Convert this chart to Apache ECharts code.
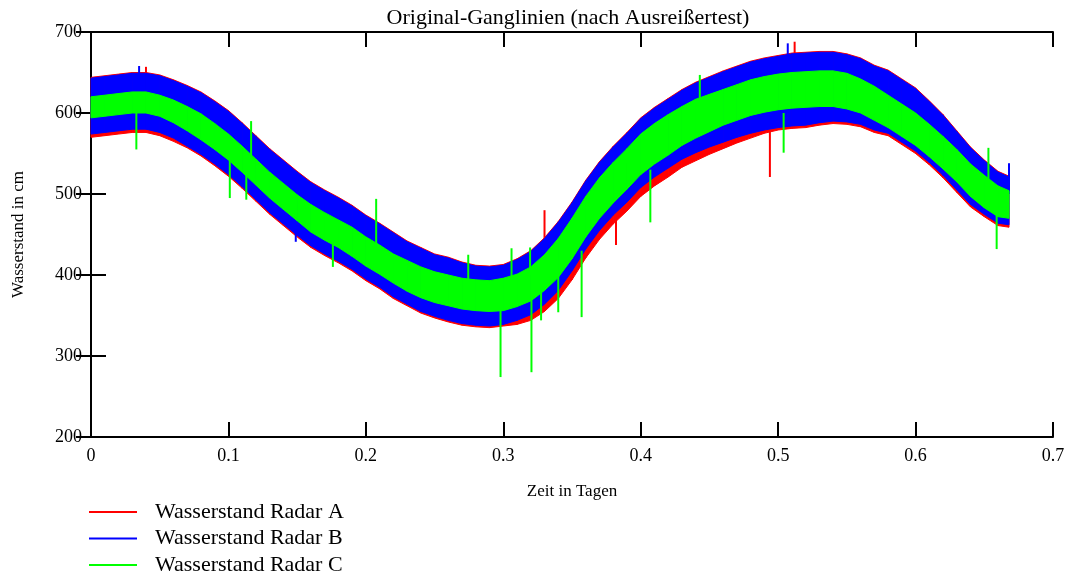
<!DOCTYPE html>
<html>
<head>
<meta charset="utf-8">
<title>Original-Ganglinien</title>
<script src="https://cdn.jsdelivr.net/npm/echarts@6/dist/echarts.min.js"></script>
<style>
  html, body { margin: 0; padding: 0; background: #fff; }
  #chart { width: 1068px; height: 578px; }
</style>
</head>
<body>
<div id="chart"></div>
<script>
// Zeit in Tagen (sampling positions of the band envelopes)
var zeit = [0, 0.01, 0.02, 0.03, 0.04, 0.05, 0.06, 0.07, 0.08, 0.09,
  0.10, 0.11, 0.12, 0.13, 0.14, 0.15, 0.16, 0.17, 0.18, 0.19,
  0.20, 0.21, 0.22, 0.23, 0.24, 0.25, 0.26, 0.27, 0.28, 0.29,
  0.30, 0.31, 0.32, 0.33, 0.34, 0.35, 0.36, 0.37, 0.38, 0.39,
  0.40, 0.41, 0.42, 0.43, 0.44, 0.45, 0.46, 0.47, 0.48, 0.49,
  0.50, 0.51, 0.52, 0.53, 0.54, 0.55, 0.56, 0.57, 0.58, 0.59,
  0.60, 0.61, 0.62, 0.63, 0.64, 0.65, 0.66, 0.668];

// Radar A (red): lower / upper edge of the noise band, cm
var radarA_lo = [570, 572, 574, 576, 576, 572, 565, 557, 547, 535,
  522, 507, 491, 475, 461, 447, 434, 424, 415, 405,
  393, 383, 371, 362, 353, 347, 342, 338, 336, 335,
  337, 339, 344, 355, 371, 394, 421, 444, 463, 479,
  497, 510, 521, 533, 541, 549, 556, 563, 569, 575,
  579, 581, 582, 585, 587, 586, 583, 576, 572, 561,
  550, 536, 520, 502, 484, 472, 461, 459];
var radarA_hi = [644, 646, 648, 650, 650, 647, 641, 634, 626, 615,
  603, 588, 572, 556, 542, 528, 515, 505, 496, 486,
  474, 464, 453, 442, 434, 426, 422, 416, 412, 411,
  413, 420, 430, 446, 466, 490, 517, 540, 559, 576,
  594, 607, 618, 629, 638, 645, 652, 658, 664, 668,
  671, 674, 675, 676, 676, 673, 668, 659, 653, 642,
  631, 615, 598, 578, 558, 542, 528, 522];

// Radar B (blue)
var radarB_lo = [574, 576, 578, 580, 580, 576, 569, 559, 549, 537,
  524, 509, 493, 477, 463, 449, 436, 426, 417, 407,
  395, 385, 373, 364, 355, 349, 344, 340, 338, 337,
  339, 344, 351, 364, 381, 405, 432, 455, 474, 490,
  508, 521, 532, 543, 551, 558, 564, 570, 575, 579,
  582, 584, 585, 588, 590, 589, 586, 579, 575, 564,
  553, 539, 523, 505, 487, 475, 464, 462];
var radarB_hi = [643, 645, 647, 649, 649, 646, 640, 633, 625, 614,
  602, 587, 571, 555, 541, 527, 514, 504, 495, 485,
  473, 463, 452, 441, 433, 425, 421, 415, 411, 410,
  412, 419, 429, 445, 465, 489, 516, 539, 558, 575,
  593, 606, 617, 628, 637, 644, 651, 657, 663, 667,
  670, 673, 674, 675, 675, 672, 667, 658, 652, 641,
  630, 614, 597, 577, 557, 541, 527, 521];

// Radar C (green)
var radarC_lo = [594, 596, 598, 600, 600, 596, 588, 578, 567, 555,
  542, 527, 511, 495, 481, 467, 453, 443, 434, 423,
  411, 401, 390, 380, 372, 366, 362, 358, 356, 355,
  356, 361, 368, 381, 397, 420, 447, 470, 489, 506,
  524, 537, 548, 560, 569, 577, 585, 591, 597, 601,
  604, 606, 607, 608, 608, 605, 600, 591, 582, 571,
  560, 546, 531, 515, 497, 483, 472, 470];
var radarC_hi = [620, 622, 624, 626, 626, 622, 616, 608, 599, 587,
  574, 559, 543, 527, 513, 499, 487, 477, 468, 459,
  447, 437, 426, 418, 410, 404, 400, 396, 394, 393,
  396, 401, 410, 425, 445, 470, 497, 520, 539, 556,
  574, 587, 598, 608, 617, 623, 629, 635, 641, 645,
  648, 650, 651, 652, 652, 649, 642, 633, 622, 611,
  600, 586, 571, 555, 537, 523, 510, 504];

// single outliers: [zeit, from, to]
var spitzenA = [[0.040, 640, 657], [0.330, 430, 480], [0.382, 470, 437],
  [0.494, 580, 521], [0.512, 670, 688]];
var spitzenB = [[0.035, 645, 658], [0.149, 460, 441], [0.507, 670, 686],
  [0.668, 500, 538]];
var spitzenC = [[0.033, 600, 555], [0.101, 545, 495], [0.113, 530, 493],
  [0.1165, 540, 590], [0.176, 440, 410], [0.2075, 425, 494],
  [0.2745, 385, 425], [0.298, 360, 274], [0.306, 395, 433],
  [0.3195, 400, 434], [0.3205, 370, 280], [0.3275, 385, 344],
  [0.340, 400, 354], [0.357, 430, 348], [0.407, 530, 465],
  [0.443, 610, 647], [0.504, 600, 551], [0.653, 515, 557],
  [0.659, 480, 432]];

var namen = ['Wasserstand Radar A', 'Wasserstand Radar B', 'Wasserstand Radar C'];
var farben = ['#ff0000', '#0000ff', '#00ff00'];

var FONT = 'Liberation Serif';

function band(lo, hi) {
  return zeit.map(function (t, i) {
    return [t, lo[i], hi[i]];
  });
}

// polygon piece between sample i and i+1
function renderBand(params, api) {
  var i = params.dataIndexInside;
  if (i >= params.dataInsideLength - 1) {
    return null;
  }
  var pts = [
    api.coord([api.value(0, i), api.value(2, i)]),
    api.coord([api.value(0, i + 1), api.value(2, i + 1)]),
    api.coord([api.value(0, i + 1), api.value(1, i + 1)]),
    api.coord([api.value(0, i), api.value(1, i)])
  ];
  var c = api.visual('color');
  return {
    type: 'polygon',
    shape: {points: pts},
    style: {fill: c, stroke: c, lineWidth: 1}
  };
}

function renderSpike(params, api) {
  var a = api.coord([api.value(0), api.value(1)]);
  var b = api.coord([api.value(0), api.value(2)]);
  return {
    type: 'line',
    shape: {x1: a[0], y1: a[1], x2: b[0], y2: b[1]},
    style: {stroke: api.visual('color'), lineWidth: 2}
  };
}

function bandSeries(k, data) {
  return {
    name: namen[k],
    type: 'custom',
    renderItem: renderBand,
    itemStyle: {color: farben[k]},
    encode: {x: 0, y: [1, 2]},
    data: data
  };
}

function spikeSeries(k, data) {
  return {
    name: namen[k],
    type: 'custom',
    renderItem: renderSpike,
    itemStyle: {color: farben[k]},
    encode: {x: 0, y: [1, 2]},
    data: data
  };
}

var axisLine = {show: true, lineStyle: {color: '#000', width: 2}};
var axisTick = {show: true, inside: true, length: 15, lineStyle: {color: '#000', width: 2}};
var tickFont = {color: '#000', fontFamily: FONT, fontSize: 18};

var myChart = echarts.init(document.getElementById('chart'));

var option = {
  animation: false,
  backgroundColor: '#fff',
  title: {
    text: 'Original-Ganglinien (nach Ausreißertest)',
    left: 568,
    top: 7,
    padding: 0,
    textAlign: 'center',
    textStyle: {color: '#000', fontFamily: FONT, fontSize: 22, fontWeight: 'normal'}
  },
  legend: {
    data: namen,
    orient: 'vertical',
    left: 89,
    top: 500,
    padding: 0,
    itemGap: 2.5,
    itemWidth: 48,
    itemHeight: 2,
    icon: 'rect',
    selectedMode: false,
    textStyle: {color: '#000', fontFamily: FONT, fontSize: 22, lineHeight: 24, padding: [0, 0, 0, 13]}
  },
  grid: {left: 91, right: 15, top: 32, bottom: 141},
  xAxis: [{
    type: 'value',
    position: 'bottom',
    min: 0,
    max: 0.7,
    interval: 0.1,
    name: 'Zeit in Tagen',
    nameLocation: 'middle',
    nameGap: 46,
    nameTextStyle: {color: '#000', fontFamily: FONT, fontSize: 17},
    axisLine: axisLine,
    axisTick: axisTick,
    axisLabel: Object.assign({margin: 10}, tickFont),
    splitLine: {show: false}
  }, {
    type: 'value',
    position: 'top',
    min: 0,
    max: 0.7,
    interval: 0.1,
    axisLine: axisLine,
    axisTick: axisTick,
    axisLabel: {show: false},
    splitLine: {show: false}
  }],
  yAxis: [{
    type: 'value',
    position: 'left',
    min: 200,
    max: 700,
    interval: 100,
    name: 'Wasserstand in cm',
    nameLocation: 'middle',
    nameRotate: 90,
    nameGap: 64,
    nameTextStyle: {color: '#000', fontFamily: FONT, fontSize: 17},
    axisLine: axisLine,
    axisTick: axisTick,
    axisLabel: Object.assign({margin: 9}, tickFont),
    splitLine: {show: false}
  }, {
    type: 'value',
    position: 'right',
    min: 200,
    max: 700,
    interval: 100,
    axisLine: axisLine,
    axisTick: axisTick,
    axisLabel: {show: false},
    splitLine: {show: false}
  }],
  series: [
    bandSeries(0, band(radarA_lo, radarA_hi)),
    spikeSeries(0, spitzenA),
    bandSeries(1, band(radarB_lo, radarB_hi)),
    spikeSeries(1, spitzenB),
    bandSeries(2, band(radarC_lo, radarC_hi)),
    spikeSeries(2, spitzenC)
  ]
};

myChart.setOption(option);
</script>
</body>
</html>
